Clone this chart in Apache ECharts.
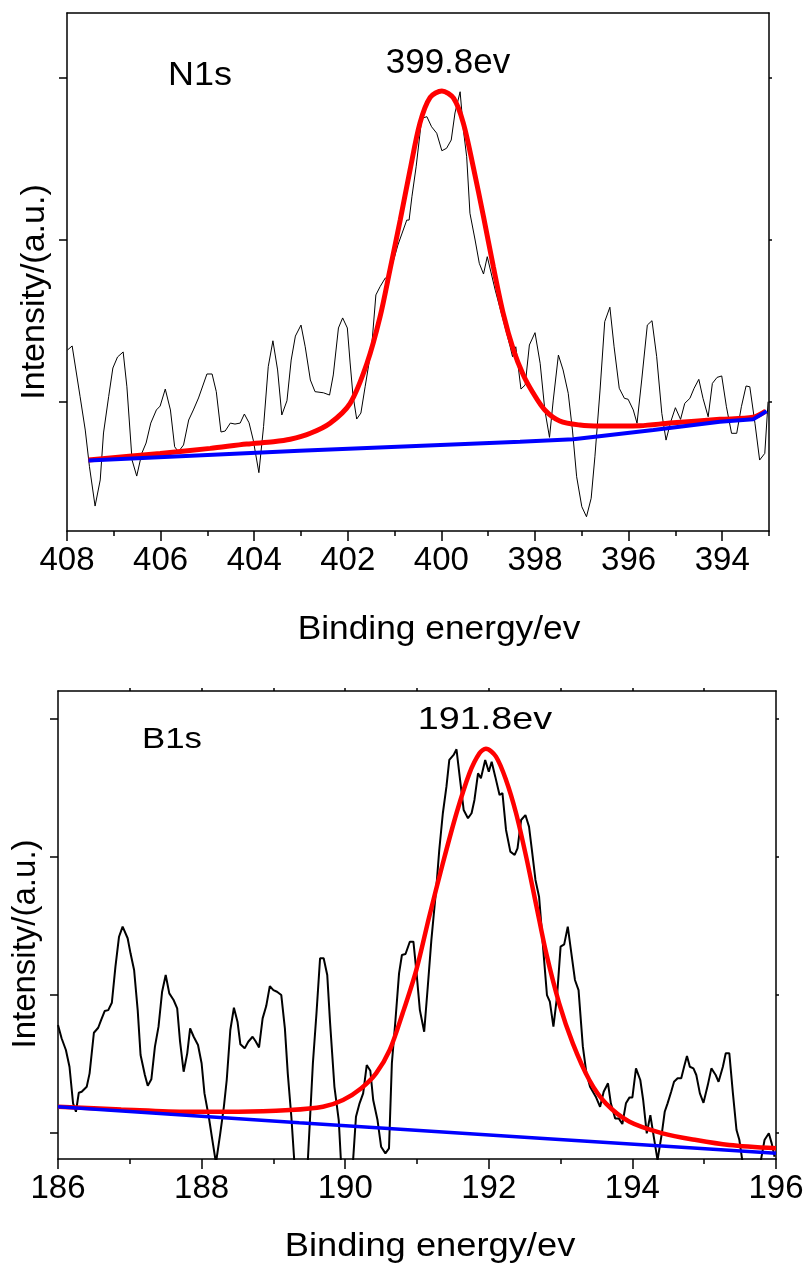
<!DOCTYPE html>
<html>
<head>
<meta charset="utf-8">
<script src="https://cdn.jsdelivr.net/npm/echarts@6/dist/echarts.min.js"></script>
<style>
  html, body { margin: 0; padding: 0; background: #fff; }
  #chart { width: 810px; height: 1266px; }
</style>
</head>
<body>
<div id="chart"></div>
<script>
// N1s spectrum: [binding energy (eV), intensity (a.u.)]
const n1sRaw = [
  [407.99,132.1],[407.89,134.6],[407.72,103.3],[407.61,82.7],[407.52,60.1],[407.40,35.8],[407.29,51.9],[407.22,80.9],
  [407.11,103.3],[407.02,121.0],[406.92,127.8],[406.80,130.9],[406.72,109.4],[406.61,64.2],[406.51,54.3],[406.40,68.5],
  [406.31,74.7],[406.21,87.0],[406.09,95.1],[406.01,97.5],[405.90,108.0],[405.79,95.1],[405.70,72.4],[405.62,69.3],
  [405.51,73.5],[405.40,88.9],[405.30,95.1],[405.19,102.5],[405.10,109.9],[405.01,117.3],[404.90,117.3],[404.81,106.4],
  [404.71,81.5],[404.62,82.1],[404.51,87.0],[404.41,86.4],[404.30,87.0],[404.21,92.6],[404.11,87.2],[404.02,76.5],
  [403.90,56.4],[403.80,84.8],[403.70,121.8],[403.60,137.8],[403.50,119.8],[403.41,92.0],[403.30,100.8],[403.21,125.9],
  [403.12,140.7],[403.00,147.5],[402.91,134.1],[402.80,113.6],[402.70,106.4],[402.52,105.7],[402.39,104.3],[402.31,116.7],
  [402.20,145.7],[402.11,151.9],[402.01,145.7],[401.95,124.1],[401.89,104.3],[401.81,89.5],[401.72,93.2],[401.63,109.4],
  [401.49,134.1],[401.40,166.1],[401.31,171.2],[401.20,176.5],[401.13,176.5],[400.93,196.9],[400.74,212.3],[400.69,212.3],
  [400.63,226.7],[400.54,245.2],[400.42,275.1],[400.31,276.1],[400.21,269.9],[400.10,265.9],[399.99,255.1],[399.89,256.6],
  [399.79,261.7],[399.71,278.4],[399.60,291.5],[399.53,267.9],[399.46,251.4],[399.39,216.5],[399.28,200.0],[399.19,185.6],
  [399.10,179.0],[399.02,189.7],[398.85,169.1],[398.68,150.6],[398.53,134.1],[398.48,128.0],[398.41,134.1],[398.30,108.0],
  [398.21,110.5],[398.12,135.2],[398.00,142.8],[397.89,123.9],[397.79,95.1],[397.69,78.2],[397.61,101.2],[397.50,129.0],
  [397.40,119.8],[397.29,105.4],[397.20,82.7],[397.11,53.9],[397.00,35.4],[396.90,29.2],[396.80,40.6],[396.72,66.2],
  [396.61,107.4],[396.51,149.6],[396.40,158.5],[396.31,134.1],[396.20,108.5],[396.09,102.3],[396.01,101.7],[395.90,95.1],
  [395.82,86.9],[395.72,113.6],[395.60,147.5],[395.50,150.2],[395.40,128.0],[395.29,93.0],[395.20,76.5],[395.10,87.8],
  [395.00,96.5],[394.89,89.3],[394.80,99.2],[394.69,102.3],[394.60,108.5],[394.50,114.0],[394.41,102.3],[394.30,90.9],
  [394.21,111.5],[394.11,115.2],[394.01,116.1],[393.91,97.1],[393.80,80.7],[393.69,80.7],[393.59,97.1],[393.49,109.9],
  [393.41,109.4],[393.30,86.9],[393.20,64.2],[393.09,68.3],[393.02,100.2]
];
const n1sFit = [
  [407.54,64.2],[406.01,68.3],[404.94,71.4],[404.16,74.1],[403.59,75.5],[403.23,77.0],[402.80,80.7],[402.38,86.9],
  [401.95,99.2],[401.59,123.9],[401.31,152.7],[401.10,181.5],[400.88,212.3],[400.67,243.2],[400.46,272.0],[400.24,288.0],
  [399.99,292.0],[399.74,287.5],[399.53,272.0],[399.32,245.2],[399.10,214.4],[398.89,183.5],[398.68,154.8],[398.46,132.1],
  [398.25,116.7],[398.04,105.6],[397.79,95.1],[397.47,88.3],[397.04,85.8],[396.61,85.2],[395.76,85.4],[395.12,87.0],
  [394.05,89.3],[393.34,90.6],[393.07,94.4]
];
const n1sBase = [
  [407.54,63.9],[403.03,69.9],[398.32,75.5],[397.18,77.0],[395.47,82.7],[394.05,87.8],[393.34,89.3],[393.05,94.4]
];

// B1s spectrum
const b1sRaw = [
  [186.00,178.0],[186.05,168.4],[186.11,159.9],[186.16,147.8],[186.21,121.3],[186.25,115.2],[186.29,129.0],[186.33,129.7],
  [186.40,133.3],[186.44,143.0],[186.50,172.4],[186.56,176.0],[186.60,181.6],[186.65,188.1],[186.70,188.8],[186.75,194.1],
  [186.80,220.2],[186.85,241.9],[186.90,249.2],[186.97,240.8],[187.01,229.9],[187.06,217.8],[187.11,188.8],[187.15,156.3],
  [187.21,141.8],[187.25,134.0],[187.30,138.7],[187.35,162.3],[187.40,176.8],[187.45,202.1],[187.50,214.2],[187.55,200.9],
  [187.61,196.1],[187.66,190.1],[187.70,165.9],[187.75,144.2],[187.80,157.5],[187.84,175.6],[187.89,169.5],[187.95,163.5],
  [188.00,150.3],[188.04,128.5],[188.10,111.6],[188.15,94.7],[188.20,78.1],[188.26,99.6],[188.31,118.8],[188.35,138.2],
  [188.40,174.4],[188.45,190.5],[188.50,180.4],[188.54,164.0],[188.60,161.1],[188.65,165.9],[188.71,169.5],[188.75,166.4],
  [188.80,161.8],[188.85,182.8],[188.90,191.7],[188.95,206.2],[189.00,203.3],[189.05,202.1],[189.11,199.7],[189.16,175.6],
  [189.20,143.0],[189.25,111.6],[189.29,80.2],[189.39,51.3],[189.48,80.2],[189.55,150.3],[189.60,186.5],[189.65,226.3],
  [189.70,226.3],[189.75,214.2],[189.79,179.2],[189.85,133.3],[189.91,109.2],[189.94,80.2],[190.03,51.3],[190.11,80.2],
  [190.15,111.6],[190.20,121.3],[190.25,128.5],[190.30,149.0],[190.35,144.9],[190.39,123.7],[190.45,109.2],[190.50,89.9],
  [190.56,85.1],[190.61,88.7],[190.65,150.3],[190.70,181.6],[190.75,215.4],[190.79,228.7],[190.84,229.4],[190.90,238.3],
  [190.95,238.3],[190.99,217.8],[191.04,188.8],[191.10,173.1],[191.15,205.7],[191.20,239.5],[191.27,278.1],[191.31,304.7],
  [191.36,331.3],[191.41,350.5],[191.45,369.9],[191.51,373.5],[191.55,377.6],[191.60,355.4],[191.65,333.7],[191.71,327.7],
  [191.76,331.3],[191.80,340.9],[191.85,360.2],[191.89,356.6],[191.95,369.9],[192.00,361.4],[192.04,368.6],[192.09,357.8],
  [192.15,344.5],[192.19,345.8],[192.24,319.2],[192.30,303.5],[192.36,301.1],[192.40,305.9],[192.45,326.4],[192.51,330.0],
  [192.56,321.6],[192.60,304.7],[192.65,283.0],[192.70,270.9],[192.73,251.6],[192.77,225.1],[192.81,199.7],[192.85,194.9],
  [192.90,176.8],[192.95,198.5],[193.00,234.7],[193.05,236.4],[193.10,249.2],[193.15,229.9],[193.20,210.6],[193.25,203.3],
  [193.31,162.3],[193.36,143.0],[193.41,133.3],[193.49,126.1],[193.55,118.8],[193.60,129.7],[193.66,135.8],[193.70,121.3],
  [193.76,110.4],[193.81,110.4],[193.86,106.3],[193.91,121.3],[193.96,125.6],[194.00,125.6],[194.05,146.6],[194.11,138.2],
  [194.15,123.7],[194.20,99.6],[194.25,112.8],[194.29,99.6],[194.35,80.2],[194.41,99.6],[194.45,115.2],[194.49,121.3],
  [194.54,129.7],[194.58,136.9],[194.63,139.4],[194.68,139.4],[194.72,147.8],[194.76,155.5],[194.80,147.8],[194.85,146.6],
  [194.89,141.8],[194.94,128.5],[194.99,121.7],[195.05,134.5],[195.10,146.6],[195.16,141.8],[195.20,136.9],[195.26,147.8],
  [195.30,157.5],[195.35,157.5],[195.40,128.5],[195.45,102.0],[195.49,94.7],[195.53,80.2],[195.66,58.5],[195.79,80.2],
  [195.84,94.7],[195.90,99.6],[195.94,92.3],[195.98,82.6]
];
const b1sFit = [
  [186.00,118.8],[186.88,116.9],[187.81,115.2],[188.51,115.2],[189.23,116.4],[189.69,118.8],[189.97,123.7],[190.22,132.1],
  [190.43,143.0],[190.62,159.9],[190.80,186.5],[190.99,217.8],[191.17,256.4],[191.36,295.1],[191.55,331.3],[191.73,360.2],
  [191.87,374.7],[191.96,378.0],[192.10,372.3],[192.24,355.4],[192.38,331.3],[192.52,299.9],[192.66,264.9],[192.80,229.9],
  [192.98,193.7],[193.17,164.7],[193.40,138.2],[193.63,121.3],[193.96,108.0],[194.42,99.6],[194.89,94.7],[195.35,91.1],
  [196.00,88.7]
];
const b1sBase = [[186.00,118.8],[189.36,107.2],[192.71,96.0],[196.00,85.1]];

const n1sMajor = [394, 396, 398, 400, 402, 404, 406, 408];
const n1sMinor = [393, 395, 397, 399, 401, 403, 405, 407];
const b1sMajor = [186, 188, 190, 192, 194, 196];
const b1sMinor = [187, 189, 191, 193, 195];
const b1sTop = [187, 188, 189, 190, 191, 192, 193, 194, 195];
const n1sYTicks = [100, 200, 300];
const b1sYTicks = [100, 200, 300, 400];

const FONT = "Liberation Sans";
const black = { color: "#000", width: 1.5 };

const chart = echarts.init(document.getElementById("chart"));

function xAxes(grid, min, max, inverse, major, minor, top, topLen) {
    return [
        {
            gridIndex: grid, type: "value", min: min, max: max, inverse: inverse, position: "bottom",
            axisLine: { show: true, onZero: false, lineStyle: black },
            axisTick: { show: true, customValues: major, length: 10, lineStyle: black },
            axisLabel: { customValues: major, fontSize: 33, color: "#000", fontFamily: FONT, margin: 13 },
            splitLine: { show: false },
        },
        {
            gridIndex: grid, type: "value", min: min, max: max, inverse: inverse, position: "bottom",
            axisLine: { show: false, onZero: false },
            axisTick: { show: true, customValues: minor, length: 5, lineStyle: black },
            axisLabel: { show: false },
            splitLine: { show: false },
        },
        {
            gridIndex: grid, type: "value", min: min, max: max, inverse: inverse, position: "top",
            axisLine: { show: true, onZero: false, lineStyle: black },
            axisTick: { show: top.length > 0, customValues: top, length: topLen, lineStyle: black },
            axisLabel: { show: false },
            splitLine: { show: false },
        },
    ];
}

function yAxes(grid, min, max, ticks) {
    return [
        {
            gridIndex: grid, type: "value", min: min, max: max, position: "left",
            axisLine: { show: true, onZero: false, lineStyle: black },
            axisTick: { show: true, customValues: ticks, length: 8, lineStyle: black },
            axisLabel: { show: false },
            splitLine: { show: false },
        },
        {
            gridIndex: grid, type: "value", min: min, max: max, position: "right",
            axisLine: { show: true, onZero: false, lineStyle: black },
            axisTick: { show: true, customValues: ticks, length: 3, lineStyle: black },
            axisLabel: { show: false },
            splitLine: { show: false },
        },
    ];
}

function line(data, xi, yi, color, width, smooth) {
    return {
        type: "line", data: data, xAxisIndex: xi, yAxisIndex: yi,
        showSymbol: false, smooth: smooth, clip: true, silent: true,
        lineStyle: { color: color, width: width },
    };
}

// the source figure is stretched a little sideways, so some texts get scaleX
function label(text, x, y, size, rot, sx) {
    return {
        type: "text", x: x, y: y, rotation: rot || 0, scaleX: sx || 1,
        style: { text: text, fontSize: size, fontFamily: FONT, fill: "#000", align: "center", verticalAlign: "middle" },
    };
}

const option = {
    animation: false,
    backgroundColor: "#fff",
    grid: [
        { left: 67, top: 13, width: 702, height: 518 },
        { left: 58, top: 691, width: 718, height: 468 },
    ],
    xAxis: [
        ...xAxes(0, 393, 408, true, n1sMajor, n1sMinor, [], 0),
        ...xAxes(1, 186, 196, false, b1sMajor, b1sMinor, b1sTop, 3),
    ],
    yAxis: [
        ...yAxes(0, 20.4, 340.1, n1sYTicks),
        ...yAxes(1, 81.0, 419.8, b1sYTicks),
    ],
    series: [
        line(n1sRaw, 0, 0, "#000", 1, false),
        line(n1sFit, 0, 0, "#ff0000", 5, 0.3),
        line(n1sBase, 0, 0, "#0000ff", 4, false),
        line(b1sRaw, 3, 2, "#000", 2, false),
        line(b1sFit, 3, 2, "#ff0000", 4.5, 0.3),
        line(b1sBase, 3, 2, "#0000ff", 3.5, false),
    ],
    graphic: [
        label("N1s", 200, 76, 33, 0, 1.09),
        label("399.8ev", 448, 63, 35),
        label("Intensity/(a.u.)", 35, 292, 34, Math.PI / 2),
        label("Binding energy/ev", 439, 630, 33, 0, 1.07),
        label("B1s", 172, 740, 29, 0, 1.2),
        label("191.8ev", 485, 720, 32, 0, 1.18),
        label("Intensity/(a.u.)", 26, 944, 33, Math.PI / 2),
        label("Binding energy/ev", 430, 1247, 33, 0, 1.1),
    ],
};

chart.setOption(option);
</script>
</body>
</html>
